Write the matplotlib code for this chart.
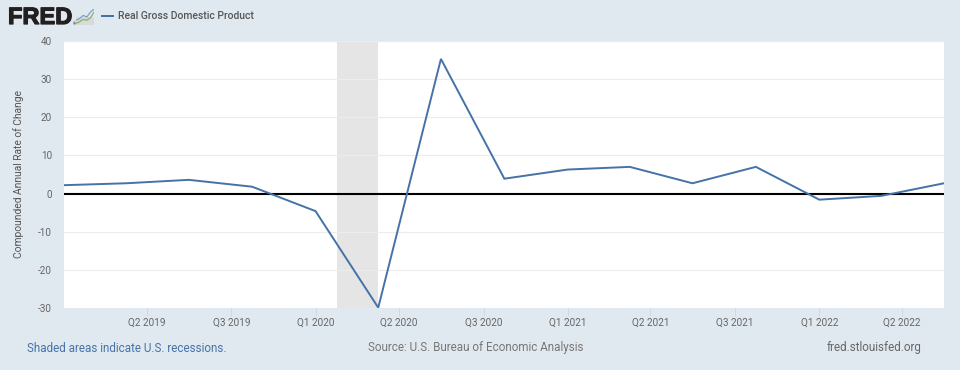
import numpy as np
import pandas as pd
import matplotlib
matplotlib.use("Agg")
import matplotlib.pyplot as plt
import matplotlib.patheffects as pe
from matplotlib.patches import Rectangle

quarters = ["2019-01-01", "2019-04-01", "2019-07-01", "2019-10-01", "2020-01-01",
            "2020-04-01", "2020-07-01", "2020-10-01", "2021-01-01", "2021-04-01",
            "2021-07-01", "2021-10-01", "2022-01-01", "2022-04-01", "2022-07-01"]
gdp_change = [2.2, 2.7, 3.6, 1.8, -4.6, -29.9, 35.3, 3.9, 6.3, 7.0, 2.7, 7.0, -1.6, -0.6, 2.7]
recession = ["2020-02-01", "2020-04-01"]
tick_dates = ["2019-05-01", "2019-09-01", "2020-01-01", "2020-05-01", "2020-09-01",
              "2021-01-01", "2021-05-01", "2021-09-01", "2022-01-01", "2022-05-01"]
tick_labels = ["Q2 2019", "Q3 2019", "Q1 2020", "Q2 2020", "Q3 2020",
               "Q1 2021", "Q2 2021", "Q3 2021", "Q1 2022", "Q2 2022"]
y_ticks = [-30, -20, -10, 0, 10, 20, 30, 40]

BG = "#e1e9f0"
LINE = "#4572a7"
W, H = 960, 370
plt.rcParams['font.family'] = ['Roboto', 'DejaVu Sans']
plt.rcParams['axes.unicode_minus'] = False

dates = pd.to_datetime(quarters)

fig = plt.figure(figsize=(W / 100, H / 100), dpi=100, facecolor=BG)
ax = fig.add_axes([64 / W, 1 - 308 / H, 880 / W, 267 / H], facecolor="white")

ax.axvspan(pd.Timestamp(recession[0]), pd.Timestamp(recession[1]), color="#e5e5e5", lw=0, zorder=1)
ax.set_yticks(y_ticks)
ax.grid(axis="y", color="#ececec", lw=0.8, zorder=0)
ax.axhline(0, color="black", lw=1.5, zorder=3)
ax.plot(dates, gdp_change, color=LINE, lw=1.4, zorder=4, solid_joinstyle="miter")

ax.set_xlim(dates[0], dates[-1])
ax.set_ylim(-30, 40)
for s in ax.spines.values():
    s.set_visible(False)

ax.set_xticks(pd.to_datetime(tick_dates))
ax.set_xticklabels(tick_labels)
ax.tick_params(axis="x", length=6, width=0.8, color="#cfdae6", labelsize=7.2, labelcolor="#666666", pad=1)
ax.tick_params(axis="y", length=0, labelsize=7.2, labelcolor="#666666", pad=8.5)
fig.text(19 / W, 1 - 174 / H, "Compounded Annual Rate of Change", fontsize=7.4, color="#555555",
         rotation=90, va="center", ha="center")

# header
fig.text(8 / W, 1 - 24 / H, "FRED", fontsize=17, fontweight="bold", color="#231f20",
         family=["Liberation Sans", "DejaVu Sans"], va="baseline", ha="left",
         path_effects=[pe.withStroke(linewidth=0.9, foreground="#231f20")])
fig.text(73 / W, 1 - 24 / H, "®", fontsize=3, color="#231f20", va="center")

# little chart icon next to the logo
icon = fig.add_axes([76 / W, 1 - 25 / H, 18 / W, 16 / H])
icon.add_patch(Rectangle((0, 0), 10, 5, color="#d6dbdc", lw=0))
icon.plot([0, 2, 4, 6, 8, 10], [3, 4, 6, 5, 8, 10], color="#7f9fc4", lw=0.9)
icon.plot([0, 2, 4, 6, 8, 10], [1, 2, 3.5, 3, 4.5, 8], color="#8fb060", lw=0.9)
icon.set_xlim(0, 10)
icon.set_ylim(0, 10)
icon.axis("off")

fig.add_artist(Rectangle((101 / W, 1 - 16.8 / H), 13 / W, 1.6 / H, transform=fig.transFigure,
                         color=LINE, lw=0))
fig.text(118 / W, 1 - 16 / H, "Real Gross Domestic Product", fontsize=7.5, fontweight="medium",
         color="#555555", va="center", ha="left")

# footer
fig.text(27 / W, 1 - 348 / H, "Shaded areas indicate U.S. recessions.", fontsize=8.35, color=LINE,
         va="center", ha="left")
fig.text(368 / W, 1 - 348 / H, "Source: U.S. Bureau of Economic Analysis", fontsize=8.4, color="#777777",
         va="center", ha="left")
fig.text(827 / W, 1 - 348 / H, "fred.stlouisfed.org", fontsize=8.35, color="#666666",
         va="center", ha="left")

fig.savefig("out.png", dpi=100, facecolor=BG)
